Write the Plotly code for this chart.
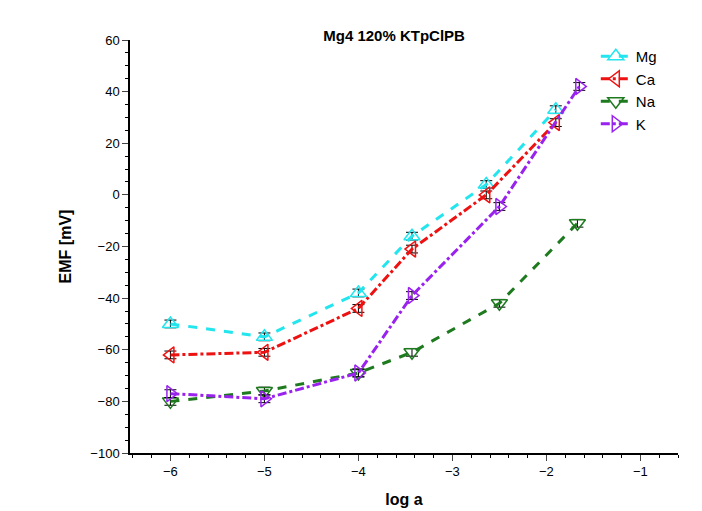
import plotly.graph_objects as go

x_mg = [-6, -5, -4, -3.43, -2.64, -1.9]
y_mg = [-50, -55, -38, -16, 4, 33]
x_ca = [-6, -5, -4, -3.43, -2.64, -1.9]
y_ca = [-62, -61, -44, -21, 0, 28]
x_na = [-6, -5, -4, -3.43, -2.5, -1.67]
y_na = [-80, -76, -69, -61, -42, -11]
x_k = [-6, -5, -4, -3.43, -2.5, -1.65]
y_k = [-77, -79, -69, -39, -4.5, 42]
err = 1.5

series = [
    ("Mg", x_mg, y_mg, "#22e5ee", "dash", "triangle-up-open"),
    ("Ca", x_ca, y_ca, "#ee1111", "dashdot", "triangle-left-open"),
    ("Na", x_na, y_na, "#1e7a1e", "dash", "triangle-down-open"),
    ("K", x_k, y_k, "#9922ee", "dashdot", "triangle-right-open"),
]
fig = go.Figure()
for name, xs, ys, c, d, m in series:
    fig.add_trace(go.Scatter(x=xs, y=ys, name=name, mode="lines+markers",
        line=dict(color=c, dash=d, width=3),
        marker=dict(symbol=m, size=14, color=c, line=dict(width=1.5, color=c)),
        error_y=dict(type="constant", value=err, color="black", width=6, thickness=1)))
ax = dict(showline=True, linecolor="black", linewidth=1.5, ticks="outside", ticklen=6,
          showgrid=False, zeroline=False, mirror=False,
          tickfont=dict(family="Arial", size=13, color="black"),
          minor=dict(ticks="outside", ticklen=3, tickcolor="black"))
fig.update_layout(
    width=702, height=511, plot_bgcolor="white", paper_bgcolor="white",
    margin=dict(l=122, r=32, t=32, b=66, autoexpand=False),
    title=dict(text="<b>Mg4 120% KTpClPB</b>", x=0.55, y=0.955, font=dict(family="Arial", size=15, color="black")),
    xaxis=dict(ax, range=[-6.43, -0.6], dtick=1, tickformat="d",
               title=dict(text="<b>log a</b>", font=dict(family="Arial", size=16, color="black"))),
    yaxis=dict(ax, range=[-100, 60], dtick=20,
               title=dict(text="<b>EMF [mV]</b>", font=dict(family="Arial", size=16, color="black"))),
    legend=dict(x=0.85, y=1.0, font=dict(family="Arial", size=15, color="black"), bgcolor="rgba(0,0,0,0)"),
)
fig.write_html("out.html")
